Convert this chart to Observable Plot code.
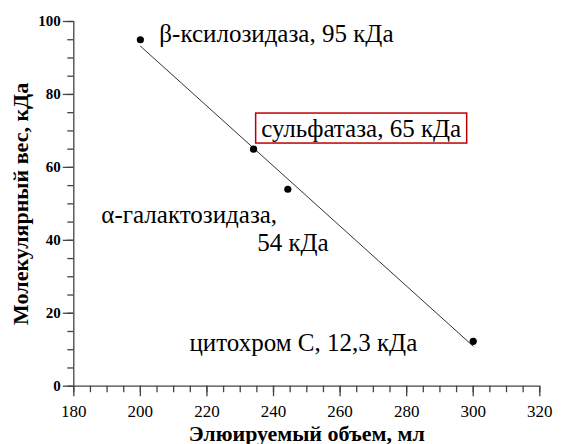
<!DOCTYPE html>
<html>
<head>
<meta charset="utf-8">
<script src="https://cdn.jsdelivr.net/npm/d3@7"></script>
<script src="https://cdn.jsdelivr.net/npm/@observablehq/plot@0.6"></script>
<style>
  body { margin: 0; background: #fff; }
  #chart svg { overflow: visible; }
</style>
</head>
<body>
<div id="chart"></div>
<script>
// Calibration standards for gel filtration: elution volume vs molecular weight
const proteins = ["β-ксилозидаза", "сульфатаза", "α-галактозидаза", "цитохром С"];
const elutionVolume = [200, 234, 244.3, 300];      // мл
const molecularWeight = [95, 65, 54, 12.3];         // кДа
const weightLabels = ["95 кДа", "65 кДа", "54 кДа", "12,3 кДа"];

const xTicks = [180, 200, 220, 240, 260, 280, 300, 320];
const yTicks = [0, 20, 40, 60, 80, 100];
const xTitle = "Элюируемый объем, мл";
const yTitle = "Молекулярный вес, кДа";
const highlighted = "сульфатаза";

const data = proteins.map((name, i) => ({
  name,
  volume: elutionVolume[i],
  weight: molecularWeight[i],
  label: weightLabels[i]
}));

const serif = "'Liberation Serif', 'Times New Roman', serif";
const axisColor = "#444";
const labelSize = 25;

const minorX = d3.range(180, 321, 5);
const minorY = d3.range(0, 101, 5);

// one annotation per standard, offset from its point
const pick = (i) => [data[i]];
const labelStyle = {
  x: "volume", y: "weight", fontSize: labelSize, fontFamily: serif,
  fill: "#000", lineAnchor: "bottom"
};

const chart = Plot.plot({
  width: 566,
  height: 444,
  marginTop: 21,
  marginBottom: 58.3,
  marginLeft: 73.3,
  marginRight: 26.7,
  style: { fontFamily: serif, background: "#fff", color: "#000" },
  x: { domain: [180, 320], label: null },
  y: { domain: [0, 100], label: null },
  marks: [
    // minor ticks
    Plot.axisX(minorX, { tickSize: 6.5, text: null, label: null, stroke: axisColor, strokeWidth: 1.3 }),
    Plot.axisY(minorY, { tickSize: 6, text: null, label: null, stroke: axisColor, strokeWidth: 1.3 }),
    // major ticks with labels
    Plot.axisX(xTicks, { tickSize: 10.5, tickPadding: 8.5, fontSize: 17, stroke: axisColor, strokeWidth: 1.3, fill: "#000", label: null }),
    Plot.axisY(yTicks, { tickSize: 10.5, tickPadding: 2.5, fontSize: 15, fontWeight: "bold", stroke: axisColor, strokeWidth: 1.3, fill: "#000", label: null }),
    // axis lines
    Plot.ruleY([0], { stroke: axisColor, strokeWidth: 1.3 }),
    Plot.ruleX([180], { stroke: axisColor, strokeWidth: 1.3 }),
    // axis titles
    Plot.text([xTitle], { frameAnchor: "bottom", textAnchor: "middle", dy: 55, lineAnchor: "bottom", fontSize: 22, fontWeight: "bold", fontFamily: serif, fill: "#000" }),
    Plot.text([yTitle], { frameAnchor: "left", textAnchor: "middle", dx: -53.3, rotate: -90, fontSize: 22, fontWeight: "bold", fontFamily: serif, fill: "#000" }),
    // calibration line
    Plot.linearRegressionY(data, { x: "volume", y: "weight", ci: 0, stroke: "#333", strokeWidth: 1 }),
    Plot.dot(data, { x: "volume", y: "weight", r: 3.6, fill: "#000", stroke: null }),
    // annotations
    Plot.text(pick(0), { ...labelStyle, text: (d) => `${d.name}, ${d.label}`, textAnchor: "start", dx: 19, dy: 2 }),
    Plot.text(pick(1), { ...labelStyle, text: (d) => `${d.name}, ${d.label}`, textAnchor: "start", dx: 7.6, dy: -12.6 }),
    Plot.text(pick(2), { ...labelStyle, text: (d) => `${d.name},`, textAnchor: "end", dx: -10.7, dy: 34 }),
    Plot.text(pick(2), { ...labelStyle, text: "label", textAnchor: "start", dx: -30.7, dy: 62 }),
    Plot.text(pick(3), { ...labelStyle, text: (d) => `${d.name}, ${d.label}`, textAnchor: "end", dx: -56, dy: 10 })
  ]
});

document.getElementById("chart").append(chart);

// red frame around the highlighted annotation
const t = Array.from(chart.querySelectorAll("text")).find((el) => el.textContent.startsWith(highlighted));
if (t) {
  const b = t.getBBox();
  const rect = document.createElementNS("http://www.w3.org/2000/svg", "rect");
  rect.setAttribute("x", b.x - 5.5);
  rect.setAttribute("y", b.y - 1.5);
  rect.setAttribute("width", b.width + 11);
  rect.setAttribute("height", b.height + 3);
  rect.setAttribute("fill", "none");
  rect.setAttribute("stroke", "#c00000");
  rect.setAttribute("stroke-width", 1.5);
  const tr = t.getAttribute("transform");
  if (tr) rect.setAttribute("transform", tr);
  t.parentNode.insertBefore(rect, t);
}
</script>
</body>
</html>
